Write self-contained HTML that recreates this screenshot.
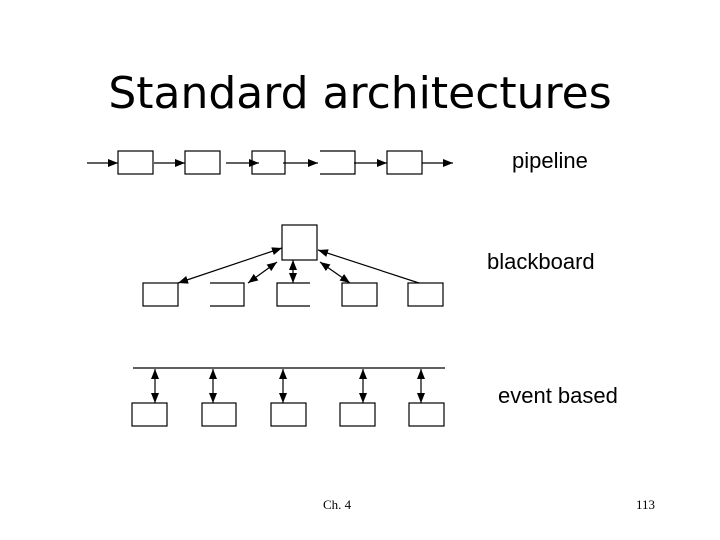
<!DOCTYPE html>
<html><head><style>
body{margin:0;width:720px;height:540px;background:#fff;overflow:hidden;position:relative;font-family:"Liberation Sans",sans-serif}
.t{position:absolute;white-space:nowrap;color:#000}
</style></head><body>
<div class="t" style="left:0;width:720px;top:68px;text-align:center;font-size:44px;font-family:'DejaVu Sans',sans-serif;letter-spacing:0px">Standard architectures</div>
<div class="t" style="left:512px;top:148px;font-size:22px">pipeline</div>
<div class="t" style="left:487px;top:249px;font-size:22px">blackboard</div>
<div class="t" style="left:498px;top:383px;font-size:22px">event based</div>
<div class="t" style="left:323px;top:497px;font-size:13px;font-family:'Liberation Serif',serif">Ch. 4</div>
<div class="t" style="left:636px;top:497px;font-size:13px;font-family:'Liberation Serif',serif">113</div>
<svg width="720" height="540" style="position:absolute;left:0;top:0">
<defs><marker id="a" markerWidth="10" markerHeight="8" refX="10" refY="4" orient="auto" markerUnits="userSpaceOnUse"><path d="M0,0L10,4L0,8z" fill="#000"/></marker>
<marker id="s" markerWidth="10" markerHeight="8" refX="0" refY="4" orient="auto" markerUnits="userSpaceOnUse"><path d="M10,0L0,4L10,8z" fill="#000"/></marker></defs>
<g fill="none" stroke="#000" stroke-width="1.2">
<rect x="118" y="151" width="35" height="23"/>
<rect x="185" y="151" width="35" height="23"/>
<rect x="252" y="151" width="33" height="23"/>
<path d="M320,151H355V174H320"/>
<rect x="387" y="151" width="35" height="23"/>
<line x1="87" y1="163" x2="118" y2="163" marker-end="url(#a)"/>
<line x1="154" y1="163" x2="185" y2="163" marker-end="url(#a)"/>
<line x1="226" y1="163" x2="259" y2="163" marker-end="url(#a)"/>
<line x1="283" y1="163" x2="318" y2="163" marker-end="url(#a)"/>
<line x1="354" y1="163" x2="387" y2="163" marker-end="url(#a)"/>
<line x1="422" y1="163" x2="453" y2="163" marker-end="url(#a)"/>
<rect x="282" y="225" width="35" height="35"/>
<rect x="143" y="283" width="35" height="23"/>
<path d="M210,283H244V306H210"/>
<path d="M310,283H277V306H310"/>
<rect x="342" y="283" width="35" height="23"/>
<rect x="408" y="283" width="35" height="23"/>
<line x1="282" y1="248" x2="178" y2="283" marker-start="url(#s)" marker-end="url(#a)"/>
<line x1="277" y1="262" x2="248" y2="283" marker-start="url(#s)" marker-end="url(#a)"/>
<line x1="293" y1="260" x2="293" y2="283" marker-start="url(#s)" marker-end="url(#a)"/>
<line x1="320" y1="262" x2="350" y2="283" marker-start="url(#s)" marker-end="url(#a)"/>
<line x1="419" y1="283" x2="318" y2="250" marker-end="url(#a)"/>
<line x1="133" y1="368" x2="445" y2="368"/>
<g marker-start="url(#s)" marker-end="url(#a)">
<line x1="155" y1="369" x2="155" y2="403"/>
<line x1="213" y1="369" x2="213" y2="403"/>
<line x1="283" y1="369" x2="283" y2="403"/>
<line x1="363" y1="369" x2="363" y2="403"/>
<line x1="421" y1="369" x2="421" y2="403"/>
</g>
<rect x="132" y="403" width="35" height="23"/>
<rect x="202" y="403" width="34" height="23"/>
<rect x="271" y="403" width="35" height="23"/>
<rect x="340" y="403" width="35" height="23"/>
<rect x="409" y="403" width="35" height="23"/>
</g></svg>
</body></html>
